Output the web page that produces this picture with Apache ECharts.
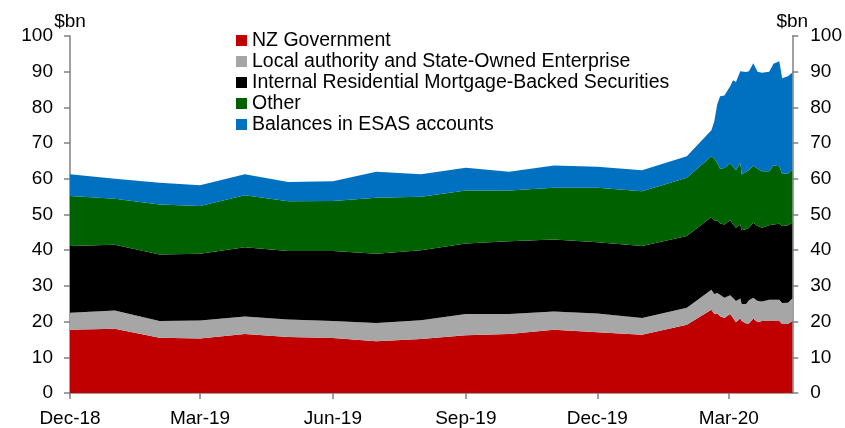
<!DOCTYPE html>
<html>
<head>
<meta charset="utf-8">
<script src="https://cdn.jsdelivr.net/npm/echarts@6/dist/echarts.min.js"></script>
<style>
html,body{margin:0;padding:0;background:#fff;}
#chart{width:845px;height:428px;}
</style>
</head>
<body>
<div id="chart"></div>
<script>
// Observation dates
const dates = ['2018-12-01','2019-01-01','2019-02-01','2019-03-01','2019-04-01','2019-05-01','2019-06-01',
  '2019-07-01','2019-08-01','2019-09-01','2019-10-01','2019-11-01','2019-12-01','2020-01-01','2020-02-01',
  '2020-02-18','2020-02-20','2020-02-22','2020-02-24','2020-02-27','2020-03-02','2020-03-04','2020-03-06',
  '2020-03-09','2020-03-10','2020-03-13','2020-03-15','2020-03-18','2020-03-21','2020-03-24','2020-03-29',
  '2020-04-01','2020-04-05','2020-04-07','2020-04-11','2020-04-14'];
const tickDates = ['2018-12-01','2019-03-01','2019-06-01','2019-09-01','2019-12-01','2020-03-01'];
const tickLabels = ['Dec-18','Mar-19','Jun-19','Sep-19','Dec-19','Mar-20'];

const seriesNames = ['NZ Government','Local authority and State-Owned Enterprise','Internal Residential Mortgage-Backed Securities','Other','Balances in ESAS accounts'];

const nzGov = [17.7,18.0,15.5,15.3,16.5,15.7,15.4,14.5,15.1,16.2,16.5,17.7,17.0,16.3,19.1,
  23.3,22.1,22.3,21.5,21.0,22.1,21.0,19.8,20.9,20.2,19.5,19.5,20.9,19.8,20.2,20.2,20.2,20.2,19.3,19.3,20.2];
const localAuth = [4.8,5.1,4.7,5.0,4.9,4.9,4.8,5.1,5.3,5.9,5.6,5.1,5.3,4.7,4.8,
  5.6,5.6,5.7,6.0,5.7,5.3,5.6,6.0,5.6,4.7,5.4,6.5,5.8,6.0,5.4,5.9,5.9,5.9,5.9,6.0,6.3];
const rmbs = [18.7,18.4,18.6,18.7,19.4,19.2,19.6,19.4,19.6,19.8,20.4,20.2,19.9,20.2,20.1,
  20.4,20.5,20.3,20.0,20.5,21.0,20.7,20.5,20.7,20.7,21.0,20.3,21.0,21.0,20.7,20.9,21.1,21.3,21.6,21.7,21.2];
const other = [14.0,12.9,14.0,13.4,14.6,13.9,14.0,15.7,15.0,14.8,14.2,14.5,15.3,15.3,16.3,
  17.0,17.4,16.2,15.3,15.8,15.9,16.1,16.1,17.3,15.6,16.1,16.1,16.0,16.0,15.8,15.1,16.5,16.1,14.6,14.4,14.9];
const esas = [6.1,5.6,6.1,5.8,5.9,5.4,5.5,7.3,6.3,6.4,5.3,6.2,5.9,5.9,6.0,
  7.3,10.5,16.3,20.3,20.3,21.6,24.2,24.7,25.6,28.6,27.9,27.7,28.7,27.2,27.6,27.9,28.5,29.4,26.8,27.3,27.2];

const colors = ['#C00000','#A6A6A6','#000000','#006100','#0070C0'];
const values = [nzGov, localAuth, rmbs, other, esas];

const FONT = 'Liberation Sans, Arial, sans-serif';
const DAY = 86400000;
const ts = s => { const p = s.split('-').map(Number); return Date.UTC(p[0], p[1] - 1, p[2]); };
const t0 = ts(dates[0]);
const tEnd = ts(dates[dates.length - 1]);
// tick positions expressed as days since the first observation (for the label axis)
const tickDays = tickDates.map(d => Math.round((ts(d) - t0) / DAY));

const chart = echarts.init(document.getElementById('chart'), null, {renderer:'canvas', useUTC: true});

const series = values.map((arr, i) => ({
  name: seriesNames[i],
  type: 'line',
  stack: 'total',
  xAxisIndex: 0,
  yAxisIndex: 0,
  data: arr.map((v, j) => [ts(dates[j]), v]),
  showSymbol: false,
  symbol: 'none',
  lineStyle: {width: 0},
  areaStyle: {color: colors[i], opacity: 1},
  itemStyle: {color: colors[i]},
  z: 2
}));

const yAxisCommon = {
  type: 'value', min: 0, max: 100, interval: 10,
  name: '$bn', nameLocation: 'end', nameGap: 14, nameMoveOverlap: false,
  nameTextStyle: {fontFamily: FONT, fontSize: 19, color: '#000', verticalAlign: 'middle'},
  axisLine: {show: true, lineStyle: {color: '#808080', width: 1.5}},
  axisTick: {show: true, inside: false, length: 6, lineStyle: {color: '#808080', width: 1.5}},
  axisLabel: {fontFamily: FONT, fontSize: 19, color: '#000', margin: 17},
  splitLine: {show: false}
};

chart.setOption({
  animation: false,
  useUTC: true,
  backgroundColor: '#fff',
  color: colors,
  grid: {left: 70, right: 51, top: 36, bottom: 34, containLabel: false},
  legend: {
    orient: 'vertical', left: 231, top: 25,
    itemWidth: 11, itemHeight: 11, itemGap: 0,
    icon: 'rect',
    textStyle: {fontFamily: FONT, fontSize: 19.5, color: '#000', lineHeight: 21},
    data: seriesNames
  },
  xAxis: [
    {
      type: 'time', min: t0, max: tEnd, position: 'bottom',
      axisLine: {show: true, onZero: false, lineStyle: {color: '#808080', width: 1.5}},
      axisTick: {show: false},
      axisLabel: {show: false},
      splitLine: {show: false}
    },
    {
      type: 'value', min: 0, max: Math.round((tEnd - t0) / DAY), position: 'bottom',
      axisLine: {show: false, onZero: false},
      axisTick: {show: true, length: 6, customValues: tickDays, lineStyle: {color: '#808080', width: 1.5}},
      axisLabel: {
        fontFamily: FONT, fontSize: 19, color: '#000', margin: 16,
        customValues: tickDays,
        formatter: v => { const k = tickDays.indexOf(v); return k >= 0 ? tickLabels[k] : ''; }
      },
      splitLine: {show: false}
    }
  ],
  yAxis: [
    Object.assign({}, yAxisCommon, {position: 'left'}),
    Object.assign({}, yAxisCommon, {position: 'right', axisLabel: Object.assign({}, yAxisCommon.axisLabel, {margin: 18})})
  ],
  series: series
});
</script>
</body>
</html>
